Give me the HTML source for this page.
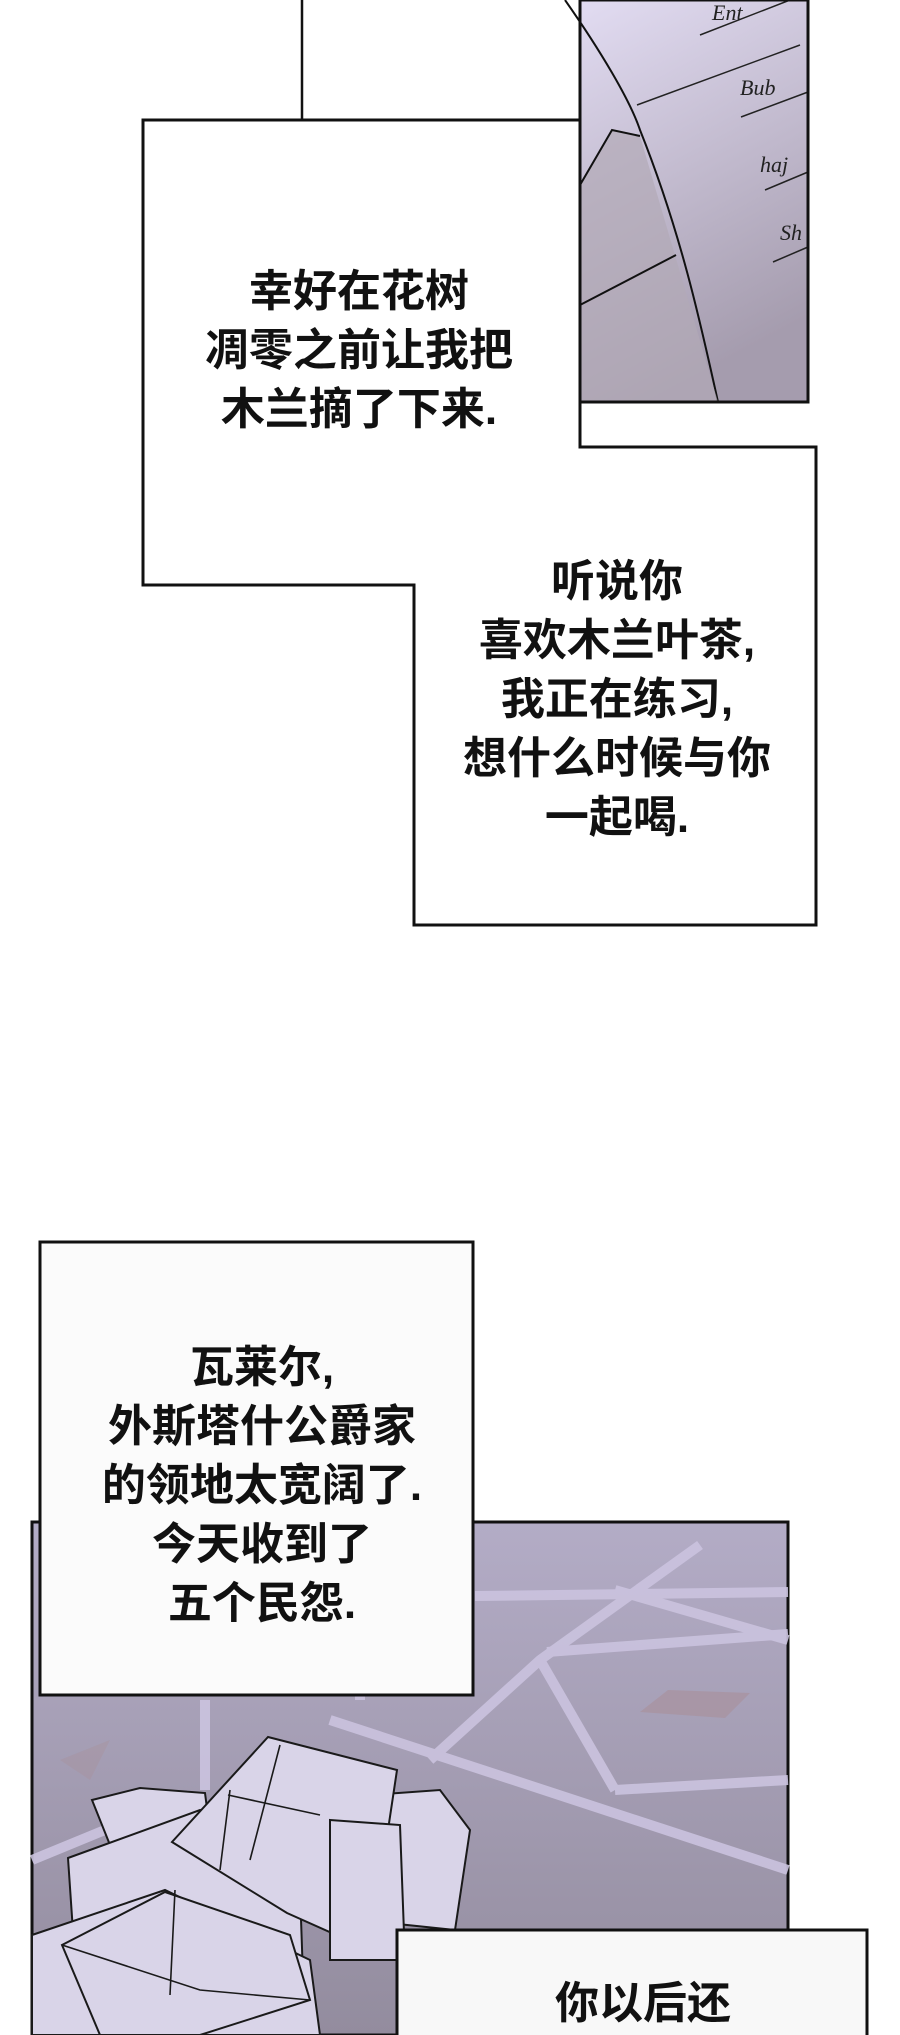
<!DOCTYPE html>
<html><head><meta charset="utf-8"><style>
html,body{margin:0;padding:0;background:#fff;}
body{width:900px;height:2035px;position:relative;overflow:hidden;}
svg{position:absolute;left:0;top:0;}
.t{position:absolute;font-family:"Liberation Sans","Noto Sans CJK SC",sans-serif;font-weight:bold;font-size:44px;line-height:59px;color:#111;text-align:center;white-space:nowrap;}
</style></head><body>
<svg width="900" height="2035" viewBox="0 0 900 2035">
<defs>
<linearGradient id="g1" x1="0" y1="0" x2="0.3" y2="1"><stop offset="0" stop-color="#e2dcf2"/><stop offset="1" stop-color="#a59cae"/></linearGradient>
<linearGradient id="g2" x1="0" y1="0" x2="0" y2="1"><stop offset="0" stop-color="#b3acc6"/><stop offset="1" stop-color="#938c9e"/></linearGradient>
</defs>
<rect x="580" y="0" width="228" height="402" fill="url(#g1)"/>
<path d="M565,0 C600,50 630,100 640,130 C680,230 700,320 718,402" fill="none" stroke="#111" stroke-width="2"/>
<polygon points="580,185 612,130 640,136 718,402 580,402" fill="#b2a9b6" opacity="0.7"/>
<path d="M580,185 L612,130 L640,136" fill="none" stroke="#111" stroke-width="2"/>
<path d="M580,305 L676,255" fill="none" stroke="#111" stroke-width="2"/>
<path d="M700,35 L790,0 M637,105 L800,45 M741,117 L808,92 M765,190 L808,172 M773,262 L808,247" stroke="#222" stroke-width="1.5"/>
<text x="712" y="20" font-family="Liberation Serif" font-style="italic" font-size="22" fill="#222">Ent</text>
<text x="740" y="95" font-family="Liberation Serif" font-style="italic" font-size="22" fill="#222">Bub</text>
<text x="760" y="172" font-family="Liberation Serif" font-style="italic" font-size="22" fill="#222">haj</text>
<text x="780" y="240" font-family="Liberation Serif" font-style="italic" font-size="22" fill="#222">Sh</text>
<rect x="580" y="0" width="228" height="402" fill="none" stroke="#111" stroke-width="3"/>
<line x1="302" y1="0" x2="302" y2="120" stroke="#111" stroke-width="2.5"/>
<polygon points="143,120 580,120 580,447 816,447 816,925 414,925 414,585 143,585" fill="#fff" stroke="#111" stroke-width="3"/>
<rect x="32" y="1522" width="756" height="513" fill="url(#g2)" stroke="#111" stroke-width="3"/>
<g stroke="#cbc3df" stroke-width="10" fill="none" opacity="0.9">
<path d="M475,1596 L788,1592"/>
<path d="M700,1545 L540,1660 L430,1760"/>
<path d="M547,1652 L788,1634"/>
<path d="M540,1660 L615,1790"/>
<path d="M615,1790 L788,1780"/>
<path d="M615,1590 L788,1640"/>
<path d="M330,1720 L788,1870"/>
<path d="M205,1700 L205,1790"/>
<path d="M32,1860 L190,1795"/>
<path d="M360,1640 L360,1700"/>
</g>
<polygon points="668,1690 750,1693 725,1718 640,1712" fill="#a8909a" opacity="0.6"/>
<polygon points="60,1760 110,1740 90,1780" fill="#a8909a" opacity="0.4"/>
<g fill="#d9d4e8" stroke="#1a1a1a" stroke-width="2">
<polygon points="92,1800 140,1788 205,1793 215,1870 120,1870"/>
<polygon points="370,1795 440,1790 470,1830 455,1930 360,1920"/>
<polygon points="68,1858 200,1810 300,1890 305,2035 80,2035"/>
<polygon points="268,1737 397,1770 370,1950 287,1913 172,1842"/>
<polygon points="330,1820 400,1825 405,1960 330,1960"/>
<polygon points="32,1935 165,1890 310,1960 320,2035 32,2035"/>
<polygon points="62,1945 165,1892 290,1935 310,2000 200,2035 100,2035"/>
</g>
<g stroke="#1a1a1a" stroke-width="1.6" fill="none">
<path d="M230,1790 L220,1870 M280,1745 L250,1860 M175,1890 L170,1995 M62,1945 L200,1990 L310,2000 M228,1795 L320,1815"/>
</g>
<rect x="40" y="1242" width="433" height="453" fill="#fbfbfb" stroke="#111" stroke-width="3"/>
<rect x="397" y="1930" width="470" height="120" fill="#f8f8f8" stroke="#111" stroke-width="3"/>
</svg>
<div class="t" style="left:159px;top:262px;width:400px;">幸好在花树<br>凋零之前让我把<br>木兰摘了下来.</div>
<div class="t" style="left:417px;top:552px;width:400px;">听说你<br>喜欢木兰叶茶,<br>我正在练习,<br>想什么时候与你<br>一起喝.</div>
<div class="t" style="left:62px;top:1338px;width:400px;">瓦莱尔,<br>外斯塔什公爵家<br>的领地太宽阔了.<br>今天收到了<br>五个民怨.</div>
<div class="t" style="left:443px;top:1974px;width:400px;">你以后还</div>
</body></html>
